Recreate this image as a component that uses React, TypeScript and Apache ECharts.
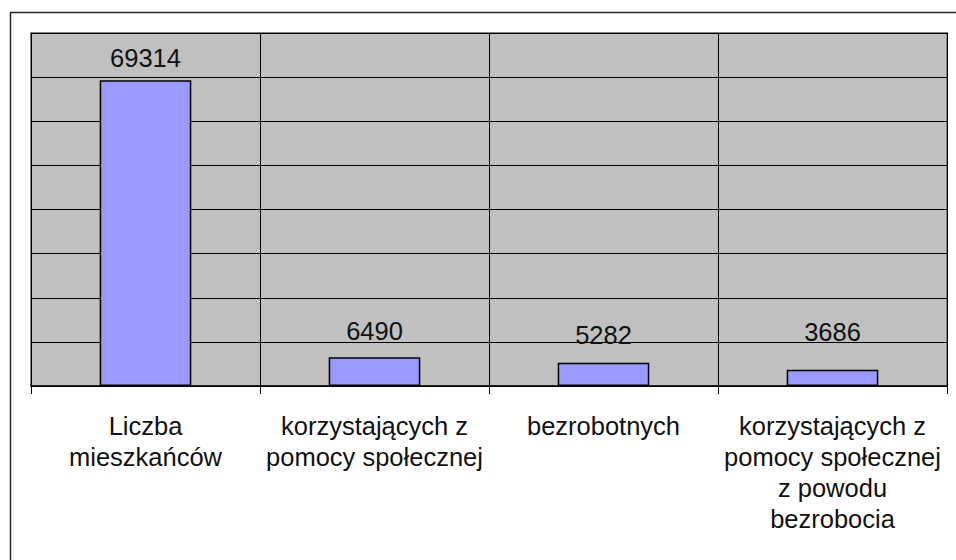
import React, { useEffect, useRef } from "react";
import * as echarts from "echarts";

const categories = [
  "Liczba\nmieszkańców",
  "korzystających z\npomocy społecznej",
  "bezrobotnych",
  "korzystających z\npomocy społecznej\nz powodu\nbezrobocia",
];
const values = [69314, 6490, 5282, 3686];
const yMin = 0;
const yMax = 80000;
const yInterval = 10000;

// label gap above each bar (style only)
const labelGaps = [9, 13, 15, 25];

const FONT = "Liberation Sans, Arial, sans-serif";

export default function App() {
  const ref = useRef<HTMLDivElement>(null);
  useEffect(() => {
    if (!ref.current) return;
    const chart = echarts.init(ref.current, undefined, { renderer: "svg" });
    chart.setOption({
      animation: false,
      backgroundColor: "#ffffff",
      graphic: [
        {
          type: "rect",
          shape: { x: 10.5, y: 12.5, width: 1200, height: 1000 },
          style: { fill: "none", stroke: "#222222", lineWidth: 1.5 },
          silent: true,
          z: 100,
        },
      ],
      grid: {
        left: 31,
        top: 33,
        right: 9,
        bottom: 174,
        show: true,
        backgroundColor: "#C0C0C0",
        borderColor: "#808080",
        borderWidth: 2,
      },
      xAxis: {
        type: "category",
        data: categories,
        boundaryGap: true,
        axisLine: { show: true, lineStyle: { color: "#000000", width: 1.5 } },
        axisTick: {
          show: true,
          length: 8,
          alignWithLabel: false,
          lineStyle: { color: "#000000", width: 1 },
        },
        splitLine: { show: true, lineStyle: { color: "#000000", width: 1 } },
        axisLabel: {
          interval: 0,
          margin: 24,
          color: "#111111",
          fontFamily: FONT,
          fontSize: 25.5,
          lineHeight: 31,
          align: "center",
        },
      },
      yAxis: {
        type: "value",
        min: yMin,
        max: yMax,
        interval: yInterval,
        axisLine: { show: false },
        axisTick: { show: false },
        axisLabel: { show: false },
        splitLine: { show: true, lineStyle: { color: "#000000", width: 1 } },
      },
      series: [
        {
          type: "bar",
          data: values.map((v, i) => ({
            value: v,
            label: { distance: labelGaps[i] },
          })),
          barWidth: "40%",
          itemStyle: {
            color: "#9999FF",
            borderColor: "#000000",
            borderWidth: 1.5,
          },
          label: {
            show: true,
            position: "top",
            color: "#111111",
            fontFamily: FONT,
            fontSize: 25.5,
          },
        },
      ],
    });
    return () => chart.dispose();
  }, []);
  return <div ref={ref} style={{ width: 956, height: 560, position: "absolute", left: 0, top: 0 }} />;
}
